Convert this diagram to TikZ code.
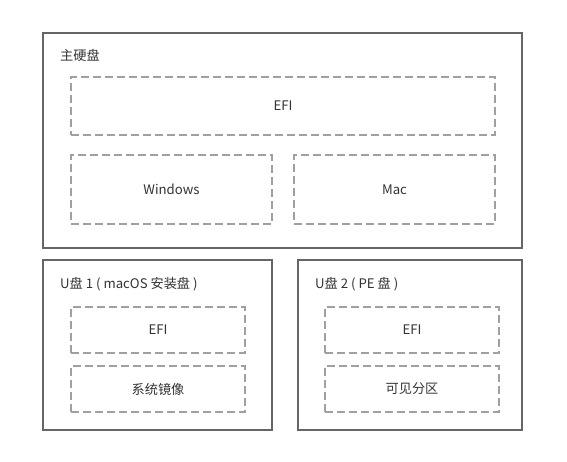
\documentclass[tikz,border=0pt]{standalone}
\usepackage{fontspec}
\setmainfont{Noto Sans CJK SC}
\usetikzlibrary{positioning}
\definecolor{frame}{HTML}{666666}
\definecolor{dashc}{HTML}{A0A0A0}
\definecolor{txt}{HTML}{333333}

\begin{document}
\begin{tikzpicture}[
  x=1pt, y=-1pt,
  font=\fontsize{13.2}{16}\selectfont,
  disk/.style={draw=frame, line width=1.5pt, inner sep=0pt},
  part/.style={draw=dashc, line width=1.6pt, dash pattern=on 8pt off 4pt,
               inner sep=0pt, text=txt, align=center},
  ttl/.style={anchor=west, text=txt, inner sep=0pt},
]
\useasboundingbox (0,0) rectangle (567,462);

% ── main disk ───────────────────────────────────────────────────────────────
\node[disk, minimum width=479pt, minimum height=215pt] (main) at (282.5,140.5) {};
\node[ttl] (mainl) at (60,55) {主硬盘};
\node[part, minimum width=424pt, minimum height=58pt] (mefi) at (283,106) {EFI};
\node[part, minimum width=201pt, minimum height=69pt] (win) at (171.5,189.5) {Windows};
\node[part, minimum width=201pt, minimum height=69pt] (mac) at (394.5,189.5) {Mac};

% ── usb 1 ───────────────────────────────────────────────────────────────────
\node[disk, minimum width=229pt, minimum height=170pt] (usba) at (157.5,345) {};
\node[ttl] (usbal) at (60,284) {U盘 1 ( macOS 安装盘 )};
\node[part, minimum width=174pt, minimum height=46pt] (aefi) at (158,330) {EFI};
\node[part, minimum width=174pt, minimum height=46pt] (aimg) at (158,389) {系统镜像};

% ── usb 2 ───────────────────────────────────────────────────────────────────
\node[disk, minimum width=224pt, minimum height=170pt] (usbb) at (410,345) {};
\node[ttl] (usbbl) at (315,284) {U盘 2 ( PE 盘 )};
\node[part, minimum width=174pt, minimum height=46pt] (befi) at (412,330) {EFI};
\node[part, minimum width=174pt, minimum height=46pt] (bvis) at (412,389) {可见分区};

\end{tikzpicture}
\end{document}
